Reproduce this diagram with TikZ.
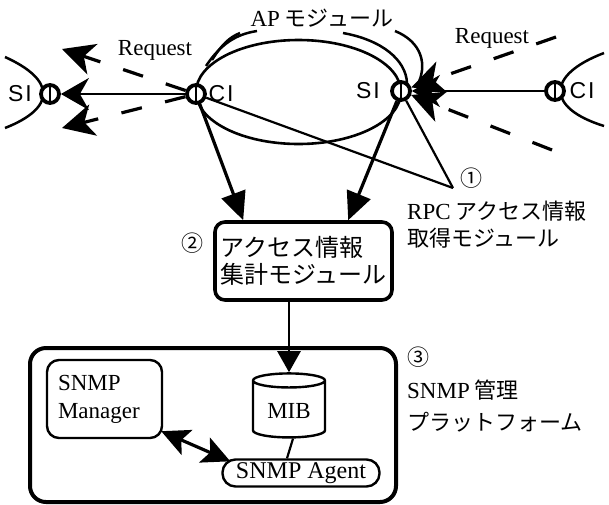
\documentclass[tikz,border=0pt]{standalone}
\usepackage{fontspec}
\setmainfont{Liberation Serif}
\newfontfamily\jpfont{Noto Sans CJK JP}
\newfontfamily\helv{Liberation Sans}
\usetikzlibrary{arrows.meta,shapes.geometric,calc}
\begin{document}
\begin{tikzpicture}[x=1pt,y=-1pt,
  txt/.style={font=\fontsize{23}{27}\selectfont, inner sep=0pt},
  jp/.style={font=\jpfont\fontsize{22}{30}\selectfont, inner sep=0pt},
  lbl/.style={font=\helv\fontsize{23}{26}\selectfont, inner sep=0pt},
  port/.style={circle, draw, fill=white, line width=3.8pt, minimum size=18pt, inner sep=0pt,
    path picture={\draw[line width=2.8pt] (path picture bounding box.north) -- (path picture bounding box.south);}},
  strand/.style={line width=2.5pt},
  wire/.style={line width=2.2pt},
  req/.style={line width=3.2pt, dash pattern=on 21pt off 24pt, -{Stealth[length=32pt,width=32pt,inset=9pt]}},
  call/.style={line width=2.2pt, -{Stealth[length=28pt,width=32pt,inset=9pt]}},
  feed/.style={line width=3.2pt, -{Triangle[length=28pt,width=25pt]}},
  box/.style={draw, line width=2.4pt},
]
\useasboundingbox (0,0) rectangle (609,504);

% AP module: stacked ellipses between the client and server interfaces
\node[ellipse, draw, line width=2.6pt, minimum width=205pt, minimum height=104pt, inner sep=0pt] (ap) at (298.5,92) {};
\draw[strand] (212,60) .. controls (222,44) and (230,37) .. (240,33);
\draw[strand] (206,66) .. controls (222,42) and (238,34) .. (257,31);
\draw[strand] (343,33) .. controls (382,40) and (406,60) .. (407,83);
\draw[strand] (395,31) .. controls (422,42) and (428,65) .. (417,86);

% neighbouring modules at both ends
\draw[strand] (5,57) .. controls (56,80) and (56,108) .. (5,128);
\draw[strand] (604,53) .. controls (546,75) and (546,108) .. (604,126);

% interface ports
\node[port] (si1) at (50,94) {};
\node[port] (ci1) at (196,94) {};
\node[port] (si2) at (401,91) {};
\node[port] (ci2) at (555,91) {};

\node[lbl] (si1l) at (20,94) {S\kern2pt I};
\node[lbl] (ci1l) at (221,94) {C\kern2pt I};
\node[lbl] (si2l) at (368,91) {S\kern2pt I};
\node[lbl] (ci2l) at (582,91) {C\kern2pt I};

\node[jp] (aplbl) at (322,18) {{\rmfamily\fontsize{23}{27}\selectfont AP} モジュール};
\node[txt] (req1) at (155,50) {Request};
\node[txt] (req2) at (492,38) {Request};

% requests on the left
\coordinate (ul) at (62,49);
\coordinate (ll) at (62,128);
\draw[req] (ci1) -- (ul);
\draw[req] (ci1) -- (ll);
\draw[call] (ci1) -- (si1);

% requests on the right
\coordinate (ur) at (556,37);
\coordinate (lr) at (552,150);
\draw[req] (ur) -- (si2);
\draw[req] (lr) -- (si2);
\draw[call] (ci2) -- (si2);

% RPC access information module (1)
\coordinate (p1) at (453,188);
\draw[wire] (ci1) -- (p1);
\draw[wire] (si2) -- (p1);
\node[jp] (n1) at (471,178) {①};
\node[jp, anchor=west] (rpc1) at (407,211) {{\rmfamily\fontsize{23}{27}\selectfont RPC} アクセス情報};
\node[jp, anchor=west] (rpc2) at (407,238) {取得モジュール};

% aggregation module (2)
\node[draw, line width=3.6pt, rounded corners=10pt, minimum width=177pt, minimum height=78pt,
      align=left, inner xsep=2pt, font=\jpfont\fontsize{24}{27}\selectfont] (agg) at (303.5,261)
      {アクセス情報\\集計モジュール};
\node[jp] (n2) at (192,243) {②};
\draw[feed] (ci1) -- ($(agg.north west)+(30,0)$);
\draw[feed] (si2) -- ($(agg.north west)+(135,0)$);

% SNMP management platform (3)
\node[draw, line width=4pt, rounded corners=16pt, minimum width=366pt, minimum height=154pt] (plat) at (213,425) {};
\node[jp] (n3) at (418,357) {③};
\node[jp, anchor=west] (pl1) at (407,390) {{\rmfamily\fontsize{23}{27}\selectfont SNMP} 管理};
\node[jp, anchor=west] (pl2) at (407,422) {プラットフォーム};

\node[box, rounded corners=12pt, minimum width=115pt, minimum height=78pt, align=left,
      text width=93pt, inner xsep=10pt, font=\fontsize{23}{28}\selectfont] (mgr) at (104.5,399)
      {SNMP\\Manager};
\node[cylinder, shape border rotate=90, draw, line width=2.4pt, aspect=0.28,
      minimum width=72pt, minimum height=64pt, font=\fontsize{23}{26}\selectfont] (mib) at (289,411) {MIB};
\node[box, rounded corners=13pt, minimum width=157pt, minimum height=27pt, inner sep=0pt,
      font=\fontsize{24}{26}\selectfont] (agent) at (301,473) {SNMP Agent};

\draw[line width=2.5pt, -{Triangle[length=21pt,width=23pt]}] (agg.south -| mib.north) -- (mib.north);
\draw[wire] ($(mib.south)+(4,0)$) -- ($(agent.north)+(-14,0)$);
\draw[line width=3.2pt, {Stealth[length=28pt,width=27pt,inset=6pt]}-{Stealth[length=28pt,width=27pt,inset=6pt]}]
  ($(mgr.south east)+(-2,-8)$) -- ($(agent.north west)+(9,3)$);
\end{tikzpicture}
\end{document}
